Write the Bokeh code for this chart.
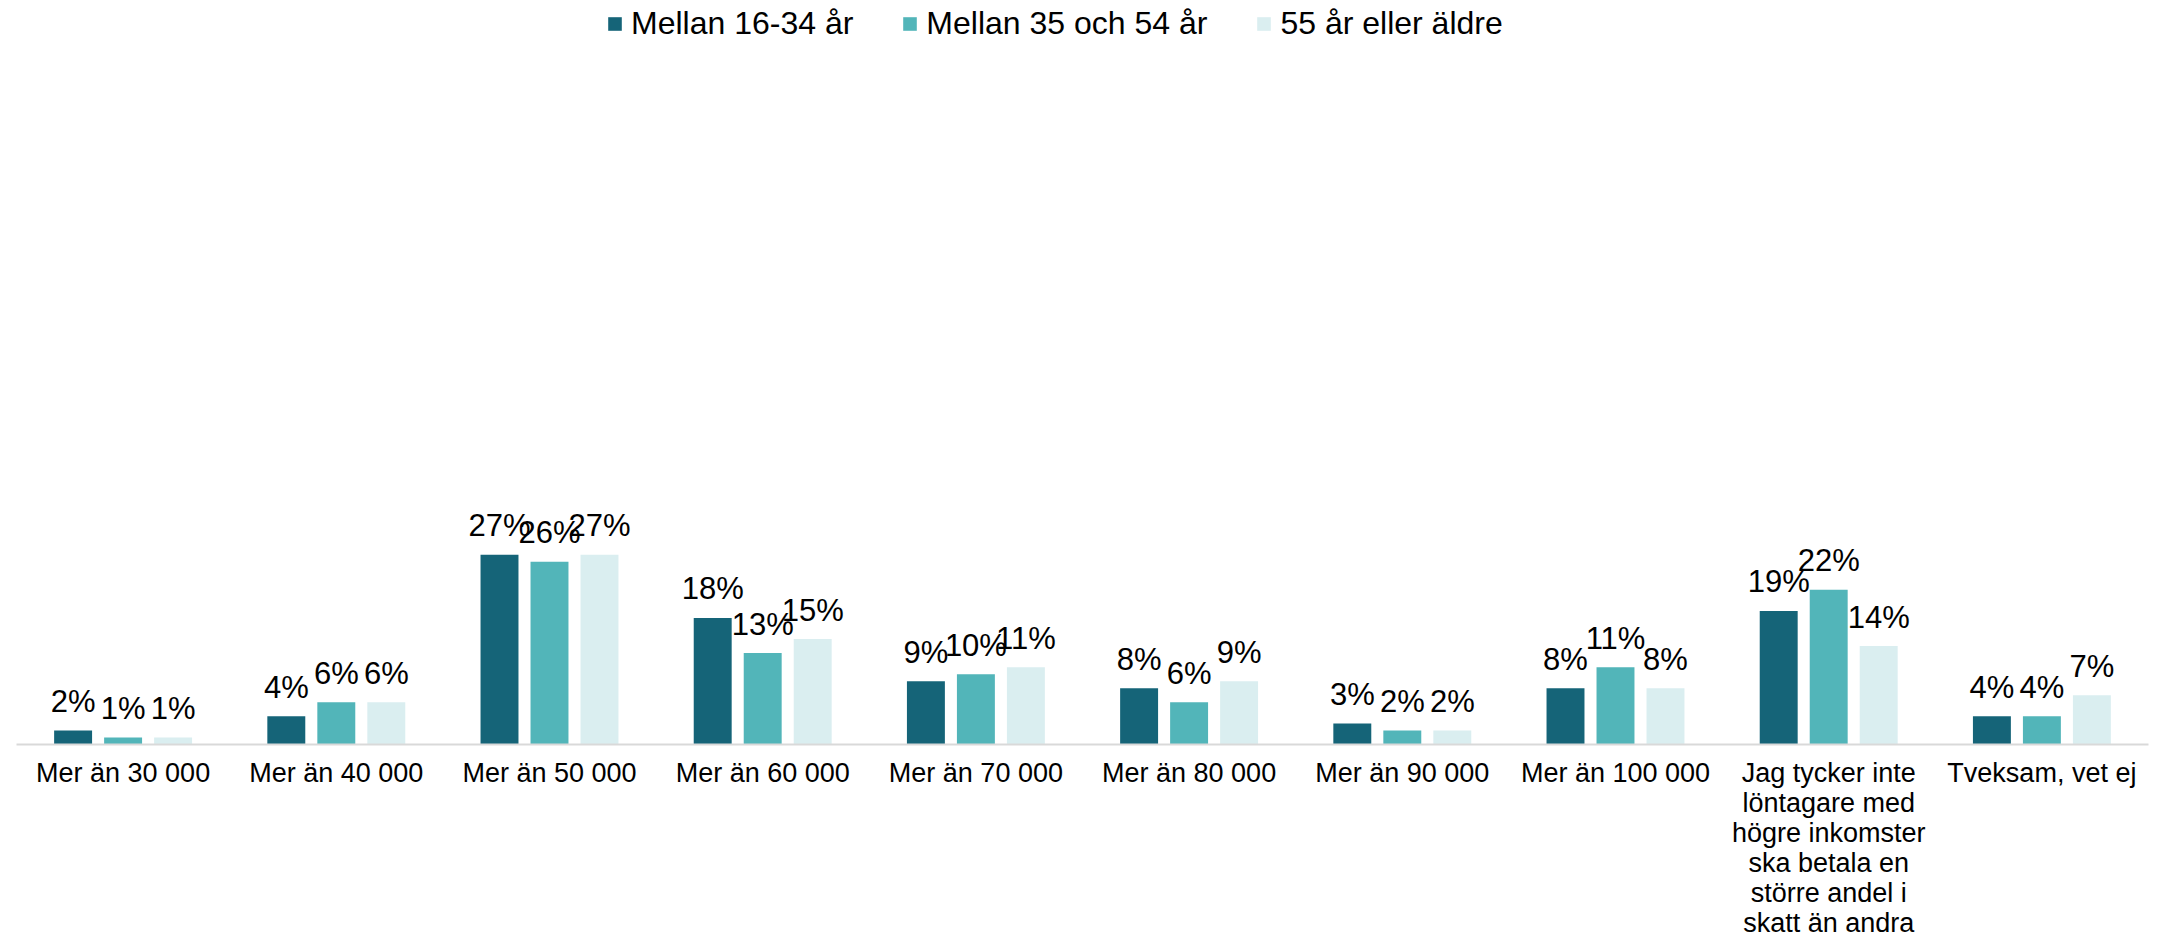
from bokeh.plotting import figure
from bokeh.models import ColumnDataSource, FixedTicker, Legend, LegendItem, Range1d
from bokeh.transform import dodge
from bokeh.core.properties import value
from bokeh.embed import file_html
from bokeh.resources import INLINE

categories = [
    "Mer än 30 000", "Mer än 40 000", "Mer än 50 000", "Mer än 60 000",
    "Mer än 70 000", "Mer än 80 000", "Mer än 90 000", "Mer än 100 000",
    "Jag tycker inte\nlöntagare med\nhögre inkomster\nska betala en\nstörre andel i\nskatt än andra",
    "Tveksam, vet ej",
]
series_names = ["Mellan 16-34 år", "Mellan 35 och 54 år", "55 år eller äldre"]
young = [2, 4, 27, 18, 9, 8, 3, 8, 19, 4]
middle = [1, 6, 26, 13, 10, 6, 2, 11, 22, 4]
older = [1, 6, 27, 15, 11, 9, 2, 8, 14, 7]
colors = ["#156478", "#52b5b9", "#daeef0"]

idx = list(range(len(categories)))
src = ColumnDataSource(dict(
    x=idx, young=young, middle=middle, older=older,
    young_lbl=[f"{v}%" for v in young],
    middle_lbl=[f"{v}%" for v in middle],
    older_lbl=[f"{v}%" for v in older],
))

FONT = "Liberation Sans"

p = figure(frame_width=2132, frame_height=744, output_backend="svg", toolbar_location=None,
           x_range=Range1d(-0.5, 9.5), y_range=Range1d(0, 105.8),
           min_border_left=16, min_border_right=8, min_border_top=0, min_border_bottom=0,
           outline_line_color=None)
p.grid.visible = False
p.yaxis.visible = False

offsets = [-0.2345, 0.0, 0.2345]
cols = ["young", "middle", "older"]
renderers = []
for off, col, c in zip(offsets, cols, colors):
    r = p.vbar(x=dodge("x", off, range=p.x_range), top=col, width=0.178, bottom=0,
               source=src, fill_color=c, line_color=None)
    renderers.append(r)
    p.text(x=dodge("x", off, range=p.x_range), y=col, text=col + "_lbl", source=src,
           text_align="center", text_baseline="alphabetic", y_offset=-29,
           text_font_size="31px", text_color="#000000", text_font=value(FONT))

ax = p.xaxis[0]
ax.ticker = FixedTicker(ticks=idx)
ax.major_label_overrides = {i: c for i, c in enumerate(categories)}
ax.major_tick_line_color = None
ax.minor_tick_line_color = None
ax.major_tick_out = 0
ax.major_tick_in = 0
ax.axis_line_color = "#d9d9d9"
ax.axis_line_width = 2
ax.major_label_text_font_size = "27px"
ax.major_label_text_font = FONT
ax.major_label_text_color = "#000000"
ax.major_label_standoff = 13
ax.major_label_text_line_height = 1.0

legend = Legend(items=[LegendItem(label=n, renderers=[r]) for n, r in zip(series_names, renderers)],
                orientation="horizontal", location=(590, 702),
                glyph_width=17, glyph_height=17, label_standoff=8, spacing=48,
                label_text_font_size="32px", label_text_font=FONT, label_text_color="#000000",
                padding=0, margin=0, border_line_color=None, background_fill_alpha=0)
p.add_layout(legend, "center")

open("out.html", "w").write(file_html(p, INLINE))
